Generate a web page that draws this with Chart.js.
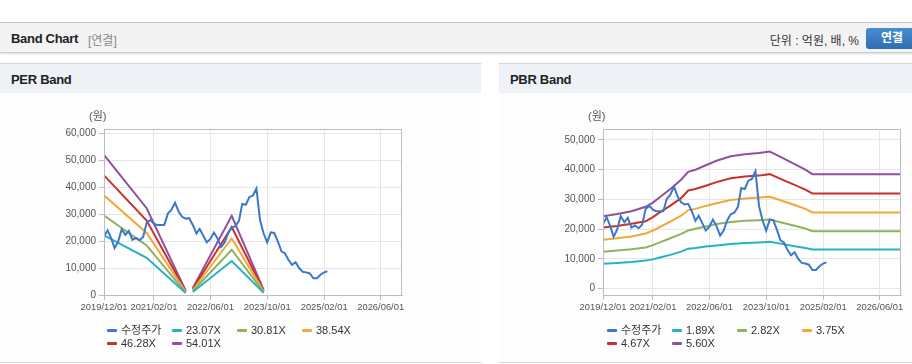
<!DOCTYPE html>
<html lang="ko"><head><meta charset="utf-8">
<script src="https://cdn.jsdelivr.net/npm/chart.js@4.4.1/dist/chart.umd.min.js"></script>
<style>
*{box-sizing:border-box}
html,body{margin:0;padding:0;width:912px;height:364px;overflow:hidden;background:#fff;font-family:"Liberation Sans",Arial,"Noto Sans CJK KR",sans-serif;color:#222}
.bar{position:absolute;left:0;top:22px;width:912px;height:31px;background:#f3f3f3;border-top:1px solid #c4c4c4;border-bottom:1px solid #cdcdcd;box-shadow:0 1px 2px rgba(0,0,0,.15)}
.bar .t{position:absolute;left:11px;top:8px;font-size:13px;font-weight:bold;letter-spacing:-0.3px}
.bar .s{position:absolute;left:88px;top:8px;font-size:12px;color:#888}
.bar .u{position:absolute;right:53px;top:8px;font-size:12px;color:#333}
.bar .b{position:absolute;left:866px;top:5px;width:52px;height:21px;border-radius:3px;background:linear-gradient(#4a8bd0,#2f6db2);color:#fff;font-weight:bold;font-size:12px;text-align:center;line-height:21px}
.panel{position:absolute;top:63px;height:300px;background:#fdfdfd;border-bottom:1px solid #d8d8d8}
.ph{height:30px;background:#eef2f7;border-top:1px solid #d6d6d6;font-size:13px;font-weight:bold;padding:8px 0 0 11px;letter-spacing:-0.3px}
.panel canvas{position:absolute;left:0;top:30px}
.lg{position:absolute;font-size:11px;color:#333;line-height:13px}
.lg .it{position:absolute;white-space:nowrap}
.lg .mk{display:inline-block;width:10px;height:3px;border-radius:1px;vertical-align:middle;margin-right:4px;position:relative;top:-1px}
</style></head>
<body>
<div class="bar"><span class="t">Band Chart</span><span class="s">[연결]</span><span class="u">단위 : 억원, 배, %</span><span class="b">연결</span></div>
<div class="panel" style="left:0;width:481px"><div class="ph">PER Band</div><canvas id="per" width="480" height="269"></canvas></div>
<div class="panel" style="left:499px;width:413px"><div class="ph">PBR Band</div><canvas id="pbr" width="413" height="269"></canvas></div>
<div class="lg" id="perLg" style="left:107px;top:324px"></div>
<div class="lg" id="pbrLg" style="left:607px;top:324px"></div>
<script>
// ---- data ----
const priceMonths = ['2019/12',
 '2020/01','2020/02','2020/03','2020/04','2020/05','2020/06','2020/07','2020/08','2020/09','2020/10','2020/11','2020/12',
 '2021/01','2021/02','2021/03','2021/04','2021/05','2021/06','2021/07','2021/08','2021/09','2021/10','2021/11','2021/12',
 '2022/01','2022/02','2022/03','2022/04','2022/05','2022/06','2022/07','2022/08','2022/09','2022/10','2022/11','2022/12',
 '2023/01','2023/02','2023/03','2023/04','2023/05','2023/06','2023/07','2023/08','2023/09','2023/10','2023/11','2023/12',
 '2024/01','2024/02','2024/03','2024/04','2024/05','2024/06','2024/07','2024/08','2024/09','2024/10','2024/11','2024/12',
 '2025/01','2025/02','2025/03'];
const priceValues = [21700,
 24000,21000,17400,19900,24400,22300,23800,20500,21200,20300,21500,26800,
 27800,26500,26000,26000,26000,30200,31600,34300,31000,29000,28300,28500,
 26000,22800,24500,22000,19500,20800,23200,21000,17800,19500,23000,25000,
 25500,27500,33800,33500,36300,36900,39500,27700,22800,19500,23200,23000,
 19800,16200,15500,13000,11200,12200,10000,8600,8400,8000,6200,6200,
 7500,8400,8800];

const perBandMonths = ['2019/12','2020/12','2021/11','2021/12','2022/01','2022/12','2023/09'];
const per2307 = [22100,13800,700,null,1100,12600,800];
const per3081 = [29500,18400,900,null,1500,16800,1100];
const per3854 = [37000,23000,1150,null,1850,21000,1350];
const per4628 = [44400,27600,1400,null,2200,25200,1600];
const per5401 = [52000,32200,1600,null,2600,29400,1900];

const pbrBandMonths = ['2019/12','2020/04','2020/08','2020/12','2021/02','2021/04','2021/07','2021/10','2021/12','2022/02','2022/05','2022/08','2022/12','2023/04','2023/08','2023/11','2024/02','2024/06','2024/09','2024/11','2026/12'];
const pbr189 = [8300,8600,8900,9400,9800,10400,11300,12400,13400,13600,14100,14500,15000,15300,15500,15700,15100,14200,13600,13100,13100];
const pbr282 = [12400,12800,13200,13800,14600,15500,16900,18400,19500,20100,20900,21700,22400,22800,23000,23200,22300,21100,20200,19300,19300];
const pbr375 = [16400,16900,17500,18500,19500,20700,22500,24500,26400,26800,27800,28700,29800,30300,30600,30900,29700,28100,26800,25600,25600];
const pbr467 = [20500,21000,21800,22600,24000,25600,27900,30400,33000,33500,34600,35800,37100,37700,38000,38500,36900,34900,33300,32000,32000];
const pbr560 = [24300,25100,26000,27500,28900,30700,33500,36600,39300,40000,41500,43000,44500,45200,45600,46100,44300,41900,40000,38500,38500];

const perNames = ['수정주가','23.07X','30.81X','38.54X','46.28X','54.01X'];
const pbrNames = ['수정주가','1.89X','2.82X','3.75X','4.67X','5.60X'];
const xTickLabels = ['2019/12/01','2021/02/01','2022/06/01','2023/10/01','2025/02/01','2026/06/01'];
const xRange = ['2019/12/01','2026/12/01'];
const perYTicks = [0,10000,20000,30000,40000,50000,60000];
const pbrYTicks = [0,10000,20000,30000,40000,50000];
const yUnit = '(원)';

// ---- helpers ----
const colors = ['#3b78c9','#25b2c4','#8eb35b','#f2a839','#c9302c','#8f519e'];
function toMs(s){const p=s.split('/').map(Number);return Date.UTC(p[0],p[1]-1,p[2]||1);}
function fmt(v){const d=new Date(v);const m=d.getUTCMonth()+1, dd=d.getUTCDate();return d.getUTCFullYear()+'/'+(m<10?'0':'')+m+'/'+(dd<10?'0':'')+dd;}
function pts(months, vals){return months.map((m,i)=>({x:toMs(m),y:vals[i]}));}

Chart.defaults.font.family='"Liberation Sans", Arial, sans-serif';
Chart.defaults.font.size=10;
Chart.defaults.color='#555';

const framePlugin={
  id:'frame',
  beforeDraw(chart){const {ctx,chartArea:a}=chart;ctx.save();ctx.fillStyle='#ffffff';ctx.fillRect(a.left,a.top,a.width,a.height);ctx.restore();},
  afterDraw(chart){const {ctx,chartArea:a}=chart;ctx.save();ctx.strokeStyle='#bdbdbd';ctx.lineWidth=1;
    ctx.strokeRect(Math.round(a.left)+0.5,Math.round(a.top)+0.5,Math.round(a.width)-1,Math.round(a.height));
    ctx.fillStyle='#555';ctx.font='11px "Liberation Sans", "Noto Sans CJK KR", sans-serif';ctx.textBaseline='middle';ctx.textAlign='left';
    ctx.fillText(yUnit,a.left-15,a.top-12);ctx.restore();}
};

function makeChart(id, names, series, yMin, yMax, yTicks){
  const datasets=series.map((s,i)=>({label:names[i],data:s,borderColor:colors[i],backgroundColor:colors[i],borderWidth:2,pointRadius:0,pointHoverRadius:0,tension:0,spanGaps:false,fill:false}));
  return new Chart(document.getElementById(id),{
    type:'line',
    data:{datasets},
    options:{
      responsive:false,animation:false,parsing:true,
      layout:{padding:{left:0,right:id==='per'?78:11,top:36,bottom:37}},
      plugins:{legend:{display:false},tooltip:{enabled:false}},
      scales:{
        x:{type:'linear',min:toMs(xRange[0]),max:toMs(xRange[1]),
          afterBuildTicks:s=>{s.ticks=xTickLabels.map(t=>({value:toMs(t)}));},
          afterFit:s=>{s.height=30;s.paddingLeft=0;s.paddingRight=0;},
          ticks:{callback:v=>fmt(v),autoSkip:false,maxRotation:0,minRotation:0,padding:2,color:'#555',font:{size:9.4}},
          grid:{color:'#e6e6e6',tickLength:5,tickColor:'#bdbdbd'},border:{color:'#bdbdbd'}},
        y:{type:'linear',min:yMin,max:yMax,
          afterBuildTicks:s=>{s.ticks=yTicks.map(v=>({value:v}));},
          afterFit:s=>{s.width=104;s.paddingTop=0;s.paddingBottom=0;},
          ticks:{callback:v=>v.toLocaleString('en-US'),padding:3,color:'#555',font:{size:10}},
          grid:{color:'#e6e6e6',tickLength:5,tickColor:'#bdbdbd'},border:{color:'#bdbdbd'}}
      }
    },
    plugins:[framePlugin]
  });
}

makeChart('per',perNames,[pts(priceMonths,priceValues),pts(perBandMonths,per2307),pts(perBandMonths,per3081),pts(perBandMonths,per3854),pts(perBandMonths,per4628),pts(perBandMonths,per5401)],0,61600,perYTicks);
makeChart('pbr',pbrNames,[pts(priceMonths,priceValues),pts(pbrBandMonths,pbr189),pts(pbrBandMonths,pbr282),pts(pbrBandMonths,pbr375),pts(pbrBandMonths,pbr467),pts(pbrBandMonths,pbr560)],-2200,53700,pbrYTicks);

function legend(id,names){
  const el=document.getElementById(id);
  names.forEach((n,i)=>{const it=document.createElement('div');it.className='it';
    it.style.left=(i%4)*65+'px';it.style.top=Math.floor(i/4)*13+'px';
    const mk=document.createElement('span');mk.className='mk';mk.style.background=colors[i];
    it.appendChild(mk);it.appendChild(document.createTextNode(n));el.appendChild(it);});
}
legend('perLg',perNames);legend('pbrLg',pbrNames);
</script>
</body></html>
